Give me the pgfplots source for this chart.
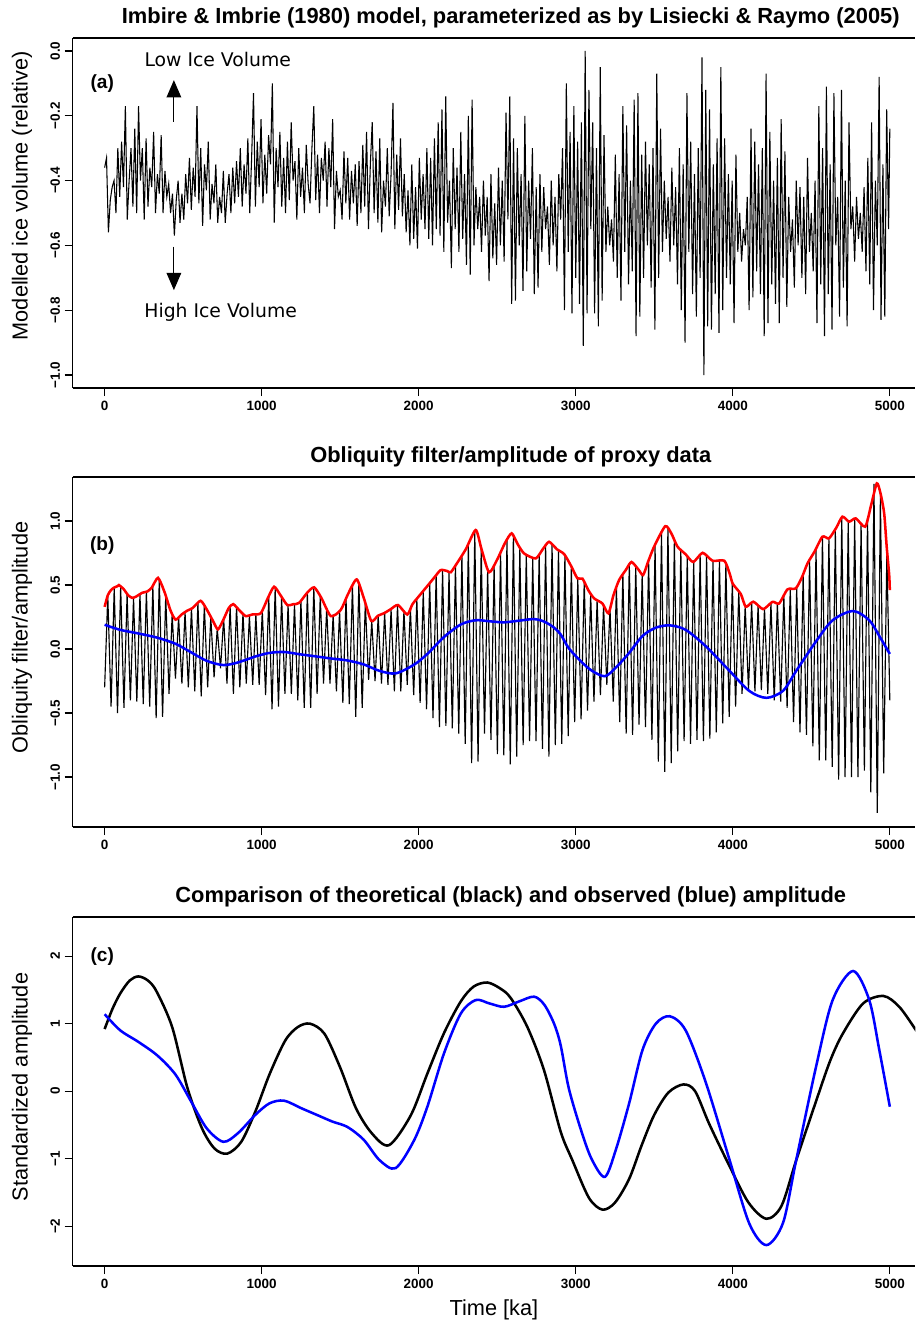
\documentclass[border=0pt]{standalone}
\usepackage{fontspec}
\setmainfont{Liberation Sans}
\newfontfamily\dejavu{DejaVu Sans}
\usepackage{pgfplots}
\pgfplotsset{compat=1.18}
\usetikzlibrary{arrows.meta}

\pgfplotsset{
 myaxis/.style={
  scale only axis, width=632pt, height=262.5pt,
  xmin=-204, xmax=5162,
  axis x line=box, axis y line=left,
  axis line style={line width=0.9pt, -},
  xtick pos=left, ytick pos=left,
  tick align=outside,
  major tick length=6pt,
  every tick/.style={black, line width=0.9pt},
  xtick={0,1000,2000,3000,4000,5000},
  xticklabels={0,1000,2000,3000,4000,5000},
  xticklabel style={font=\fontsize{10.1}{12}\selectfont\bfseries},
  yticklabel style={font=\fontsize{10.1}{12}\selectfont\bfseries, rotate=90, anchor=south},
  clip mode=individual,
 },
}
\tikzset{
 ttl/.style={font=\fontsize{16.4}{19}\selectfont\bfseries},
 ylab/.style={rotate=90, font=\fontsize{16.3}{19}\selectfont},
 plab/.style={font=\fontsize{14.3}{17}\selectfont\bfseries},
}

\begin{document}
\begin{tikzpicture}
\useasboundingbox (0,0) rectangle (686.25pt,-991.5pt);

% ---------------- panel (a)
\begin{axis}[myaxis, at={(54.45pt,-28.5pt)}, anchor=north west,
  ymin=-1.04, ymax=0.04,
  ytick={-1,-0.8,-0.6,-0.4,-0.2,0},
  yticklabels={−1.0,−0.8,−0.6,−0.4,−0.2,0.0}]
\addplot[black, line width=0.8pt] coordinates {
(0,-0.36)(12,-0.33)(24,-0.56)(36,-0.46)(48,-0.42)(60,-0.40)(72,-0.50)(84,-0.30)(96,-0.45)(108,-0.28)
(120,-0.42)(132,-0.17)(144,-0.52)(156,-0.40)(168,-0.30)(180,-0.48)(192,-0.24)(204,-0.50)(216,-0.17)(228,-0.40)
(240,-0.30)(252,-0.52)(264,-0.27)(276,-0.48)(288,-0.36)(300,-0.42)(312,-0.25)(324,-0.50)(336,-0.38)(348,-0.44)
(360,-0.26)(372,-0.50)(384,-0.37)(396,-0.45)(408,-0.41)(420,-0.50)(432,-0.44)(444,-0.57)(456,-0.46)(468,-0.40)
(480,-0.53)(492,-0.44)(504,-0.52)(516,-0.38)(528,-0.47)(540,-0.33)(552,-0.49)(564,-0.36)(576,-0.45)(588,-0.17)
(600,-0.47)(612,-0.30)(624,-0.54)(636,-0.35)(648,-0.43)(660,-0.28)(672,-0.52)(684,-0.41)(696,-0.47)(708,-0.35)
(720,-0.53)(732,-0.45)(744,-0.50)(756,-0.37)(768,-0.53)(780,-0.44)(792,-0.38)(804,-0.50)(816,-0.36)(828,-0.47)
(840,-0.34)(852,-0.45)(864,-0.30)(876,-0.48)(888,-0.35)(900,-0.44)(912,-0.27)(924,-0.50)(936,-0.33)(948,-0.13)
(960,-0.48)(972,-0.28)(984,-0.42)(996,-0.21)(1008,-0.47)(1020,-0.32)(1032,-0.44)(1044,-0.26)(1056,-0.35)(1068,-0.10)
(1080,-0.53)(1092,-0.30)(1104,-0.42)(1116,-0.25)(1128,-0.48)(1140,-0.33)(1152,-0.50)(1164,-0.28)(1176,-0.46)(1188,-0.22)
(1200,-0.40)(1212,-0.34)(1224,-0.52)(1236,-0.30)(1248,-0.45)(1260,-0.36)(1272,-0.50)(1284,-0.29)(1296,-0.41)(1308,-0.47)
(1320,-0.30)(1332,-0.17)(1344,-0.46)(1356,-0.32)(1368,-0.50)(1380,-0.33)(1392,-0.40)(1404,-0.28)(1416,-0.48)(1428,-0.30)
(1440,-0.42)(1452,-0.21)(1464,-0.55)(1476,-0.37)(1488,-0.45)(1500,-0.43)(1512,-0.52)(1524,-0.31)(1536,-0.47)(1548,-0.33)
(1560,-0.52)(1572,-0.37)(1584,-0.47)(1596,-0.35)(1608,-0.54)(1620,-0.34)(1632,-0.50)(1644,-0.29)(1656,-0.48)(1668,-0.25)
(1680,-0.55)(1692,-0.35)(1704,-0.22)(1716,-0.50)(1728,-0.31)(1740,-0.53)(1752,-0.27)(1764,-0.56)(1776,-0.40)(1788,-0.48)
(1800,-0.30)(1812,-0.51)(1824,-0.38)(1836,-0.16)(1848,-0.55)(1860,-0.32)(1872,-0.49)(1884,-0.27)(1896,-0.51)(1908,-0.38)
(1920,-0.56)(1932,-0.43)(1944,-0.60)(1956,-0.35)(1968,-0.58)(1980,-0.42)(1992,-0.61)(2004,-0.33)(2016,-0.52)(2028,-0.38)
(2040,-0.55)(2052,-0.30)(2064,-0.58)(2076,-0.33)(2088,-0.60)(2100,-0.27)(2112,-0.55)(2124,-0.22)(2136,-0.57)(2148,-0.18)
(2160,-0.62)(2172,-0.14)(2184,-0.53)(2196,-0.40)(2208,-0.67)(2220,-0.30)(2232,-0.55)(2244,-0.36)(2256,-0.62)(2268,-0.25)
(2280,-0.58)(2292,-0.38)(2304,-0.66)(2316,-0.20)(2328,-0.69)(2340,-0.15)(2352,-0.60)(2364,-0.42)(2376,-0.55)(2388,-0.45)
(2400,-0.62)(2412,-0.40)(2424,-0.57)(2436,-0.45)(2448,-0.71)(2460,-0.38)(2472,-0.64)(2484,-0.47)(2496,-0.66)(2508,-0.36)
(2520,-0.60)(2532,-0.40)(2544,-0.65)(2556,-0.19)(2568,-0.52)(2580,-0.14)(2592,-0.78)(2604,-0.27)(2616,-0.77)(2628,-0.30)
(2640,-0.60)(2652,-0.38)(2664,-0.74)(2676,-0.20)(2688,-0.68)(2700,-0.40)(2712,-0.58)(2724,-0.30)(2736,-0.75)(2748,-0.42)
(2760,-0.73)(2772,-0.38)(2784,-0.62)(2796,-0.42)(2808,-0.55)(2820,-0.48)(2832,-0.66)(2844,-0.40)(2856,-0.60)(2868,-0.45)
(2880,-0.68)(2892,-0.38)(2904,-0.52)(2916,-0.30)(2928,-0.80)(2940,-0.10)(2952,-0.62)(2964,-0.25)(2976,-0.81)(2988,-0.17)
(3000,-0.70)(3012,-0.28)(3024,-0.78)(3036,-0.22)(3048,-0.91)(3060,0.00)(3072,-0.81)(3084,-0.12)(3096,-0.55)(3108,-0.22)
(3120,-0.81)(3132,-0.30)(3144,-0.85)(3156,-0.05)(3168,-0.77)(3180,-0.26)(3192,-0.62)(3204,-0.48)(3216,-0.60)(3228,-0.52)
(3240,-0.65)(3252,-0.32)(3264,-0.70)(3276,-0.38)(3288,-0.77)(3300,-0.17)(3312,-0.62)(3324,-0.23)(3336,-0.72)(3348,-0.40)
(3360,-0.68)(3372,-0.15)(3384,-0.88)(3396,-0.13)(3408,-0.82)(3420,-0.32)(3432,-0.70)(3444,-0.28)(3456,-0.60)(3468,-0.35)
(3480,-0.73)(3492,-0.30)(3504,-0.86)(3516,-0.07)(3528,-0.70)(3540,-0.24)(3552,-0.62)(3564,-0.40)(3576,-0.58)(3588,-0.45)
(3600,-0.65)(3612,-0.36)(3624,-0.60)(3636,-0.42)(3648,-0.72)(3660,-0.30)(3672,-0.80)(3684,-0.35)(3696,-0.90)(3708,-0.13)
(3720,-0.62)(3732,-0.28)(3744,-0.75)(3756,-0.38)(3768,-0.82)(3780,-0.30)(3792,-0.70)(3804,-0.02)(3816,-1.00)(3828,-0.12)
(3840,-0.85)(3852,-0.18)(3864,-0.86)(3876,-0.35)(3888,-0.75)(3900,-0.27)(3912,-0.87)(3924,-0.05)(3936,-0.80)(3948,-0.27)
(3960,-0.70)(3972,-0.38)(3984,-0.72)(3996,-0.40)(4008,-0.84)(4020,-0.32)(4032,-0.62)(4044,-0.50)(4056,-0.65)(4068,-0.55)
(4080,-0.60)(4092,-0.45)(4104,-0.80)(4116,-0.24)(4128,-0.76)(4140,-0.28)(4152,-0.68)(4164,-0.35)(4176,-0.75)(4188,-0.30)
(4200,-0.88)(4212,-0.07)(4224,-0.84)(4236,-0.25)(4248,-0.72)(4260,-0.40)(4272,-0.78)(4284,-0.33)(4296,-0.84)(4308,-0.21)
(4320,-0.70)(4332,-0.31)(4344,-0.79)(4356,-0.45)(4368,-0.62)(4380,-0.52)(4392,-0.73)(4404,-0.40)(4416,-0.60)(4428,-0.42)
(4440,-0.70)(4452,-0.45)(4464,-0.75)(4476,-0.33)(4488,-0.62)(4500,-0.50)(4512,-0.68)(4524,-0.40)(4536,-0.84)(4548,-0.17)
(4560,-0.72)(4572,-0.30)(4584,-0.88)(4596,-0.11)(4608,-0.75)(4620,-0.35)(4632,-0.86)(4644,-0.13)(4656,-0.60)(4668,-0.45)
(4680,-0.82)(4692,-0.12)(4704,-0.73)(4716,-0.40)(4728,-0.85)(4740,-0.22)(4752,-0.55)(4764,-0.48)(4776,-0.65)(4788,-0.45)
(4800,-0.58)(4812,-0.50)(4824,-0.62)(4836,-0.42)(4848,-0.68)(4860,-0.33)(4872,-0.72)(4884,-0.22)(4896,-0.80)(4908,-0.40)
(4920,-0.60)(4932,-0.08)(4944,-0.83)(4956,-0.35)(4968,-0.82)(4980,-0.18)(4992,-0.55)(5000,-0.24)
};
\node[ttl] at (rel axis cs:0.520,1.057) {Imbire \& Imbrie (1980) model, parameterized as by Lisiecki \& Raymo (2005)};
\node[ylab] at (rel axis cs:-0.060,0.549) {Modelled ice volume (relative)};
\node[plab] at (axis cs:-15,-0.10) {(a)};
\node[font=\dejavu\fontsize{14.1}{17}\selectfont] at (axis cs:720,-0.026) {Low Ice Volume};
\node[font=\dejavu\fontsize{14.1}{17}\selectfont] at (axis cs:739,-0.807) {High Ice Volume};
\draw[-{Triangle[length=13pt,width=11pt]}, line width=0.9pt] (axis cs:441,-0.218) -- (axis cs:441,-0.090);
\draw[-{Triangle[length=13pt,width=11pt]}, line width=0.9pt] (axis cs:441,-0.604) -- (axis cs:441,-0.738);
\end{axis}

% ---------------- panel (b)
\begin{axis}[myaxis, at={(54.45pt,-357.75pt)}, anchor=north west,
  ymin=-1.39, ymax=1.344,
  ytick={-1,-0.5,0,0.5,1},
  yticklabels={−1.0,−0.5,0.0,0.5,1.0}]
\addplot[black, line width=0.85pt] coordinates {
(0,-0.30)(20,0.42)(41,-0.45)(61,0.48)(82,-0.50)(102,0.49)(123,-0.46)(143,0.43)(164,-0.40)(184,0.40)
(205,-0.41)(225,0.43)(246,-0.43)(266,0.45)(287,-0.45)(307,0.49)(328,-0.54)(348,0.55)(369,-0.53)(389,0.42)
(410,-0.35)(430,0.27)(451,-0.23)(471,0.25)(492,-0.27)(512,0.29)(533,-0.30)(553,0.32)(574,-0.33)(594,0.36)
(615,-0.37)(635,0.34)(656,-0.30)(676,0.25)(697,-0.22)(717,0.16)(738,-0.15)(758,0.24)(779,-0.27)(799,0.33)
(820,-0.35)(840,0.33)(861,-0.30)(881,0.28)(902,-0.27)(922,0.26)(943,-0.28)(963,0.27)(984,-0.28)(1004,0.30)
(1025,-0.36)(1045,0.41)(1066,-0.47)(1086,0.48)(1107,-0.45)(1127,0.41)(1148,-0.35)(1168,0.345)(1189,-0.35)(1209,0.35)
(1230,-0.40)(1250,0.38)(1271,-0.46)(1291,0.44)(1312,-0.46)(1332,0.48)(1353,-0.35)(1373,0.41)(1394,-0.27)(1414,0.32)
(1435,-0.27)(1455,0.27)(1476,-0.33)(1496,0.30)(1517,-0.42)(1537,0.40)(1558,-0.43)(1578,0.50)(1599,-0.53)(1619,0.52)
(1640,-0.46)(1660,0.36)(1681,-0.24)(1701,0.22)(1722,-0.25)(1742,0.26)(1763,-0.27)(1783,0.28)(1804,-0.28)(1824,0.31)
(1845,-0.33)(1865,0.34)(1886,-0.33)(1906,0.30)(1927,-0.28)(1947,0.32)(1968,-0.36)(1988,0.39)(2009,-0.42)(2029,0.45)
(2050,-0.47)(2070,0.52)(2091,-0.54)(2111,0.58)(2132,-0.61)(2152,0.615)(2173,-0.60)(2193,0.60)(2214,-0.62)(2234,0.65)
(2255,-0.66)(2275,0.73)(2296,-0.74)(2316,0.82)(2337,-0.89)(2357,0.92)(2378,-0.88)(2398,0.79)(2419,-0.66)(2439,0.62)
(2460,-0.71)(2480,0.66)(2501,-0.82)(2521,0.76)(2542,-0.83)(2562,0.85)(2583,-0.90)(2603,0.89)(2624,-0.84)(2644,0.79)
(2665,-0.75)(2685,0.74)(2706,-0.72)(2726,0.71)(2747,-0.72)(2767,0.74)(2788,-0.78)(2808,0.81)(2829,-0.84)(2849,0.82)
(2870,-0.75)(2890,0.77)(2911,-0.74)(2931,0.73)(2952,-0.68)(2972,0.64)(2993,-0.57)(3013,0.55)(3034,-0.55)(3054,0.53)
(3075,-0.48)(3095,0.43)(3116,-0.41)(3136,0.38)(3157,-0.36)(3177,0.34)(3198,-0.28)(3218,0.32)(3239,-0.41)(3259,0.48)
(3280,-0.57)(3300,0.59)(3321,-0.66)(3341,0.67)(3362,-0.67)(3382,0.65)(3403,-0.59)(3423,0.59)(3444,-0.61)(3464,0.69)
(3485,-0.71)(3505,0.81)(3526,-0.88)(3546,0.91)(3567,-0.96)(3587,0.95)(3608,-0.89)(3628,0.85)(3649,-0.80)(3669,0.78)
(3690,-0.72)(3710,0.72)(3731,-0.74)(3751,0.68)(3772,-0.71)(3792,0.74)(3813,-0.72)(3833,0.73)(3854,-0.70)(3874,0.69)
(3895,-0.65)(3915,0.69)(3936,-0.58)(3956,0.66)(3977,-0.53)(3997,0.52)(4018,-0.45)(4038,0.45)(4059,-0.35)(4079,0.34)
(4100,-0.32)(4120,0.36)(4141,-0.33)(4161,0.34)(4182,-0.32)(4202,0.32)(4223,-0.35)(4243,0.36)(4264,-0.40)(4284,0.36)
(4305,-0.41)(4325,0.42)(4346,-0.46)(4366,0.47)(4387,-0.57)(4407,0.48)(4428,-0.65)(4448,0.58)(4469,-0.67)(4489,0.69)
(4510,-0.76)(4530,0.78)(4551,-0.87)(4571,0.878)(4592,-0.87)(4612,0.865)(4633,-0.92)(4653,0.94)(4674,-1.02)(4694,1.03)
(4715,-1.00)(4735,1.00)(4756,-1.00)(4776,1.02)(4797,-1.00)(4817,0.98)(4838,-0.95)(4858,1.02)(4879,-1.12)(4899,1.29)
(4920,-1.28)(4940,1.20)(4961,-0.97)(4981,0.75)(5000,-0.40)
};
\addplot[red, line width=1.9pt, smooth, tension=0.4] coordinates {
(0,0.33)(20,0.42)(40,0.46)(60,0.48)(80,0.49)(91,0.50)(120,0.47)(150,0.42)(176,0.40)(200,0.41)
(240,0.44)(272,0.45)(300,0.48)(340,0.556)(380,0.45)(420,0.30)(452,0.23)(490,0.27)(526,0.30)(560,0.32)
(611,0.377)(650,0.31)(690,0.22)(722,0.154)(760,0.24)(790,0.32)(819,0.351)(860,0.30)(898,0.258)(940,0.27)
(994,0.28)(1040,0.40)(1079,0.487)(1120,0.42)(1163,0.344)(1200,0.35)(1238,0.36)(1290,0.44)(1334,0.482)(1380,0.40)
(1440,0.258)(1503,0.305)(1550,0.43)(1605,0.544)(1650,0.40)(1698,0.22)(1740,0.26)(1779,0.28)(1820,0.31)(1868,0.344)
(1927,0.27)(1960,0.35)(2002,0.414)(2060,0.50)(2100,0.56)(2140,0.617)(2180,0.61)(2204,0.60)(2236,0.656)(2300,0.78)
(2363,0.93)(2400,0.78)(2448,0.60)(2500,0.70)(2550,0.83)(2592,0.904)(2630,0.82)(2671,0.747)(2745,0.708)(2790,0.78)
(2830,0.838)(2880,0.78)(2926,0.742)(2970,0.65)(3011,0.552)(3043,0.55)(3080,0.46)(3117,0.396)(3170,0.356)(3208,0.279)
(3240,0.42)(3276,0.539)(3320,0.62)(3355,0.68)(3400,0.62)(3429,0.578)(3460,0.68)(3499,0.80)(3570,0.96)(3610,0.90)
(3648,0.80)(3700,0.74)(3748,0.68)(3808,0.752)(3871,0.69)(3946,0.69)(3980,0.59)(4000,0.51)(4051,0.43)(4083,0.33)
(4131,0.37)(4193,0.312)(4253,0.369)(4295,0.356)(4348,0.466)(4401,0.474)(4440,0.56)(4476,0.67)(4520,0.76)(4571,0.878)
(4613,0.865)(4660,0.95)(4698,1.034)(4741,0.995)(4783,1.021)(4843,0.956)(4880,1.12)(4917,1.294)(4940,1.22)(4964,1.06)
(4980,0.80)(4996,0.578)(5000,0.46)
};
\addplot[blue, line width=1.9pt, smooth] coordinates {
(0,0.19)(100,0.150)(215,0.122)(335,0.089)(450,0.042)(550,-0.025)(650,-0.092)(756,-0.125)(850,-0.104)(960,-0.058)
(1050,-0.030)(1142,-0.023)(1250,-0.042)(1350,-0.058)(1450,-0.075)(1546,-0.089)(1650,-0.120)(1750,-0.170)(1853,-0.190)(1970,-0.122)
(2055,-0.038)(2161,0.094)(2268,0.192)(2363,0.225)(2450,0.217)(2543,0.209)(2640,0.222)(2735,0.234)(2800,0.214)(2862,0.167)
(2904,0.114)(2955,0.008)(3030,-0.092)(3100,-0.167)(3185,-0.212)(3255,-0.145)(3340,-0.030)(3425,0.102)(3510,0.167)(3599,0.185)
(3700,0.150)(3828,0.022)(3977,-0.167)(4105,-0.327)(4214,-0.381)(4320,-0.326)(4403,-0.172)(4530,0.060)(4636,0.225)(4766,0.297)
(4869,0.225)(4933,0.102)(5000,-0.038)
};
\node[ttl] at (rel axis cs:0.520,1.057) {Obliquity filter/amplitude of proxy data};
\node[ylab] at (rel axis cs:-0.060,0.541) {Obliquity filter/amplitude};
\node[plab] at (axis cs:-15,0.807) {(b)};
\end{axis}

% ---------------- panel (c)
\begin{axis}[myaxis, at={(54.45pt,-687.75pt)}, anchor=north west,
  height=261.75pt,
  ymin=-2.59, ymax=2.58,
  ytick={-2,-1,0,1,2},
  yticklabels={−2,−1,0,1,2}]
\addplot[black, line width=1.9pt, smooth] coordinates {
(0,0.92)(50,1.22)(100,1.45)(160,1.64)(215,1.70)(275,1.64)(330,1.48)(430,0.95)(527,0.05)(620,-0.55)(700,-0.85)(781,-0.925)(870,-0.75)
(960,-0.30)(1050,0.25)(1150,0.75)(1230,0.95)(1308,1.0)(1400,0.85)(1500,0.35)(1600,-0.25)(1700,-0.62)(1811,-0.80)
(1949,-0.36)(2055,0.26)(2161,0.86)(2268,1.33)(2350,1.55)(2437,1.61)(2520,1.52)(2586,1.38)(2692,0.95)(2798,0.31)
(2904,-0.60)(2978,-1.02)(3084,-1.58)(3170,-1.755)(3250,-1.65)(3340,-1.30)(3420,-0.80)(3500,-0.35)(3590,-0.02)(3686,0.10)
(3760,0.0)(3849,-0.48)(3977,-1.10)(4100,-1.65)(4214,-1.89)(4310,-1.70)(4403,-1.03)(4530,-0.15)(4620,0.45)(4700,0.85)
(4830,1.30)(4960,1.41)(5060,1.25)(5166,0.905)(5250,0.60)
};
\addplot[blue, line width=1.9pt, smooth] coordinates {
(0,1.14)(100,0.90)(215,0.73)(335,0.53)(450,0.25)(550,-0.15)(650,-0.55)(756,-0.75)(850,-0.62)(960,-0.35)
(1050,-0.18)(1142,-0.14)(1250,-0.25)(1350,-0.35)(1450,-0.45)(1546,-0.53)(1650,-0.72)(1750,-1.02)(1853,-1.14)(1970,-0.73)
(2055,-0.23)(2161,0.56)(2268,1.15)(2363,1.35)(2450,1.30)(2543,1.25)(2640,1.33)(2735,1.40)(2800,1.28)(2862,1.00)
(2904,0.68)(2955,0.05)(3030,-0.55)(3100,-1.00)(3185,-1.27)(3255,-0.87)(3340,-0.18)(3425,0.61)(3510,1.00)(3599,1.11)
(3700,0.90)(3828,0.13)(3977,-1.00)(4105,-1.96)(4214,-2.28)(4320,-1.95)(4403,-1.03)(4530,0.36)(4636,1.35)(4766,1.78)
(4869,1.35)(4933,0.61)(5000,-0.23)
};
\node[ttl] at (rel axis cs:0.520,1.057) {Comparison of theoretical (black) and observed (blue) amplitude};
\node[ylab] at (rel axis cs:-0.060,0.513) {Standardized amplitude};
\node[plab] at (axis cs:-15,2.0) {(c)};
\node[font=\fontsize{16.3}{19}\selectfont] at (rel axis cs:0.500,-0.126) {Time [ka]};
\end{axis}
\end{tikzpicture}
\end{document}
